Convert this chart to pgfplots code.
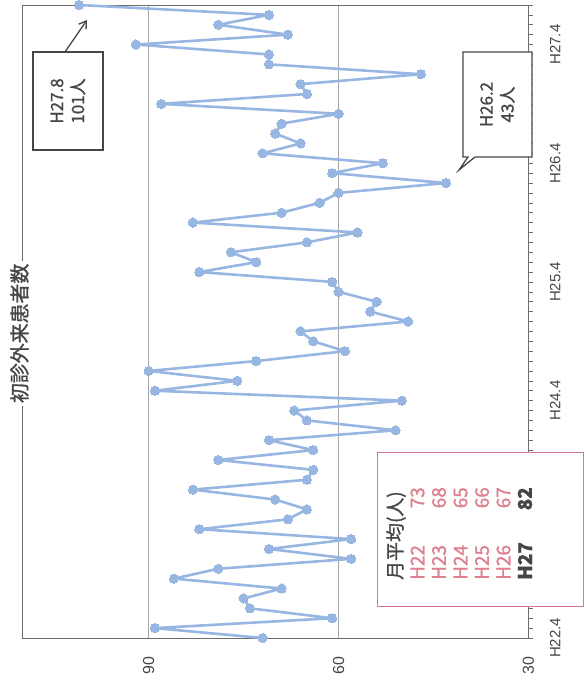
\documentclass[border=0pt]{standalone}
\usepackage{pgfplots}
\pgfplotsset{compat=1.18}
\usepackage{graphicx}
\usepackage{fontspec}
\setmainfont{Liberation Sans}
\newfontfamily\jp[FakeBold=1.2]{Noto Sans CJK JP}
\usetikzlibrary{arrows.meta}
\definecolor{serie}{RGB}{152,182,226}
\definecolor{pinkt}{RGB}{222,128,142}
\definecolor{pinkline}{RGB}{214,120,135}
\definecolor{darkt}{RGB}{70,70,70}
\pgfplotstableread{
x y
0 72
1 89
2 61
3 74
4 75
5 69
6 86
7 79
8 58
9 71
10 58
11 82
12 68
13 65
14 70
15 83
16 65
17 64
18 79
19 64
20 71
21 51
22 65
23 67
24 50
25 89
26 76
27 90
28 73
29 59
30 64
31 66
32 49
33 55
34 54
35 60
36 61
37 82
38 73
39 77
40 65
41 57
42 83
43 69
44 63
45 60
46 43
47 61
48 53
49 72
50 66
51 70
52 69
53 60
54 88
55 65
56 66
57 47
58 71
59 71
60 92
61 68
62 79
63 71
64 101
}\patients
\begin{document}
\rotatebox{90}{%
\begin{tikzpicture}[x=1bp,y=1bp]
\useasboundingbox (0,0) rectangle (686,585);
\begin{axis}[
  at={(48bp,56.5bp)}, anchor=south west,
  scale only axis, width=633bp, height=506.5bp,
  xmin=0, xmax=64, ymin=30, ymax=110,
  axis line style={draw=gray!85!black, line width=0.9bp},
  xtick={0,12,24,36,48,60},
  xticklabels={H22.4,H23.4,H24.4,H25.4,H26.4,H27.4},
  minor xtick={0,1,...,64},
  xtick pos=bottom, ytick pos=left,
  tick align=outside,
  major tick length=4bp, minor tick length=4bp,
  xtick style={draw=gray!85!black, line width=0.6bp},
  minor tick style={draw=gray!85!black, line width=0.6bp},
  ytick={30,60,90},
  ytick style={draw=none},
  ymajorgrids, grid style={gray!70, line width=0.6bp},
  xticklabel style={font=\fontsize{15}{18}\selectfont, text=darkt, yshift=-14bp},
  yticklabel style={font=\fontsize{16}{19}\selectfont, text=darkt, xshift=-11bp},
  /pgf/number format/assume math mode=true,
  clip=false,
]
\addplot[color=serie, line width=2.6bp, line join=round, mark=*, mark size=4.6bp,
  mark options={fill=serie, draw=serie, line width=0pt}] table {\patients};
\node[fill=white, inner xsep=3bp, inner ysep=1bp, text=darkt,
  font=\jp\fontsize{20}{22}\selectfont] at (axis cs:30.8,110.4) {初診外来患者数};
\end{axis}
% annotation H27.8
\draw[darkt, line width=1.3bp, fill=white] (536,482) rectangle (634,552);
\node[align=center, text=darkt, font=\jp\fontsize{17}{21}\selectfont] at (585,517) {H27.8\\101人};
\draw[darkt, line width=1.3bp, -{Straight Barb[length=7bp,width=9bp]}] (634,520) -- (666,498);
% annotation H26.2
\draw[darkt, line width=1.3bp, fill=white, line join=miter]
  (529,53) -- (634,53) -- (634,122) -- (529,122) -- (529,117) -- (516,126) -- (529,110) -- cycle;
\node[align=center, text=darkt, font=\jp\fontsize{17}{21}\selectfont] at (581.5,87.5) {H26.2\\43人};
% monthly average box
\draw[pinkline, line width=1bp, fill=white] (79,2) rectangle (233,207);
\begin{scope}[font=\jp\fontsize{19}{21}\selectfont]
\node[anchor=west, text=darkt, inner sep=0pt] at (106,189) {月平均(人)};
\node[anchor=west, text=pinkt, inner sep=0pt] at (106,167.5) {H22};
\node[anchor=east, text=pinkt, inner sep=0pt] at (199,167.5) {73};
\node[anchor=west, text=pinkt, inner sep=0pt] at (106,146) {H23};
\node[anchor=east, text=pinkt, inner sep=0pt] at (199,146) {68};
\node[anchor=west, text=pinkt, inner sep=0pt] at (106,124.5) {H24};
\node[anchor=east, text=pinkt, inner sep=0pt] at (199,124.5) {65};
\node[anchor=west, text=pinkt, inner sep=0pt] at (106,103) {H25};
\node[anchor=east, text=pinkt, inner sep=0pt] at (199,103) {66};
\node[anchor=west, text=pinkt, inner sep=0pt] at (106,81.5) {H26};
\node[anchor=east, text=pinkt, inner sep=0pt] at (199,81.5) {67};
\node[anchor=west, text=darkt, inner sep=0pt] at (106,60) {\bfseries H27};
\node[anchor=east, text=darkt, inner sep=0pt] at (199,60) {\bfseries 82};
\end{scope}
\end{tikzpicture}}
\end{document}
